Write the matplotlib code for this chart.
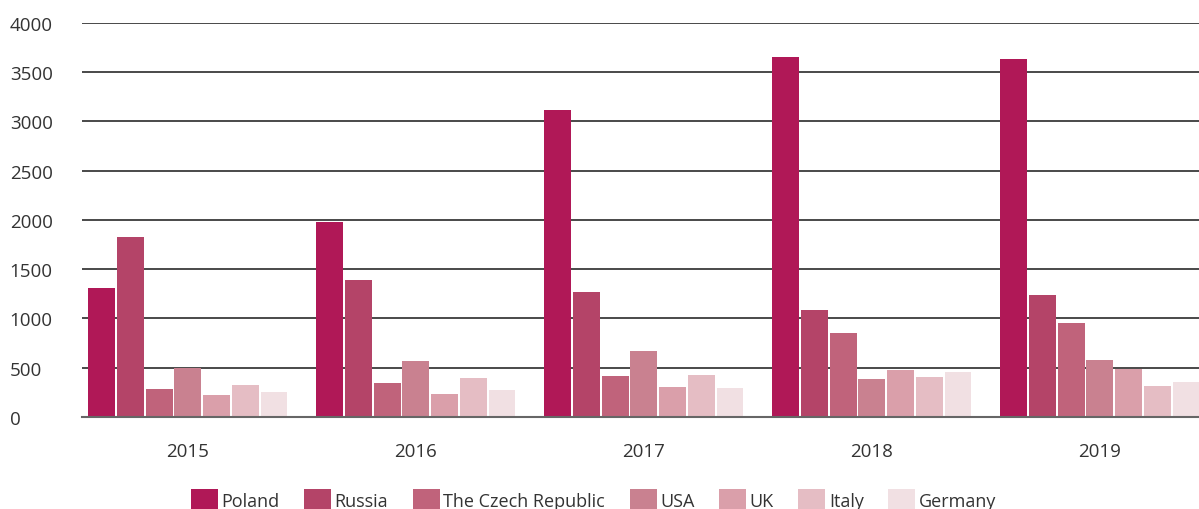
import numpy as np
import matplotlib
matplotlib.use("Agg")
import matplotlib.pyplot as plt

plt.rcParams['font.family'] = ['Open Sans', 'DejaVu Sans']

years = ['2015', '2016', '2017', '2018', '2019']
countries = ['Poland', 'Russia', 'The Czech Republic', 'USA', 'UK', 'Italy', 'Germany']
colors = ['#B01857', '#B44468', '#C0637B', '#C98190', '#DA9FAA', '#E5BDC4', '#F1E0E3']

poland = [1310, 1980, 3117, 3655, 3635]
russia = [1827, 1391, 1269, 1086, 1239]
czech = [284, 345, 416, 853, 954]
usa = [494, 569, 670, 386, 579]
uk = [223, 233, 305, 477, 487]
italy = [325, 396, 426, 406, 315]
germany = [254, 274, 294, 457, 355]
series = [poland, russia, czech, usa, uk, italy, germany]

fig = plt.figure(figsize=(11.99, 5.10), dpi=100)
ax = fig.add_axes([0.0684, 0.1804, 0.9316, 0.7726])

x = np.arange(len(years))
step = 0.126
width = 0.118
for j, vals in enumerate(series):
    ax.bar(x + (j - 3) * step - 0.01, vals, width, color=colors[j],
           label=countries[j], zorder=3)

ax.set_xlim(-0.474, 4.425)
ax.set_ylim(0, 4000)
ax.set_yticks(range(0, 4001, 500))
ax.yaxis.grid(True, color='#3a3a3a', linewidth=1.3, zorder=0)
ax.set_axisbelow(True)
for s in ['top', 'right', 'left']:
    ax.spines[s].set_visible(False)
ax.spines['bottom'].set_color('#666666')
ax.spines['bottom'].set_linewidth(1.5)
ax.spines['bottom'].set_zorder(4)

ax.set_xticks(x - 0.012)
ax.set_xticklabels(years)
ax.tick_params(axis='x', length=0, pad=18, labelsize=13.5, labelcolor='#333333')
ax.tick_params(axis='y', length=0, pad=52, labelsize=13.5, labelcolor='#333333')
for lab in ax.get_yticklabels():
    lab.set_horizontalalignment('left')

fig.legend(loc='center', bbox_to_anchor=(0.495, 0.018), ncol=7, frameon=False,
           fontsize=13, handlelength=1.5, handleheight=1.45, handletextpad=0.2,
           columnspacing=1.35, labelcolor='#333333')

fig.savefig('out.png', dpi=100)
